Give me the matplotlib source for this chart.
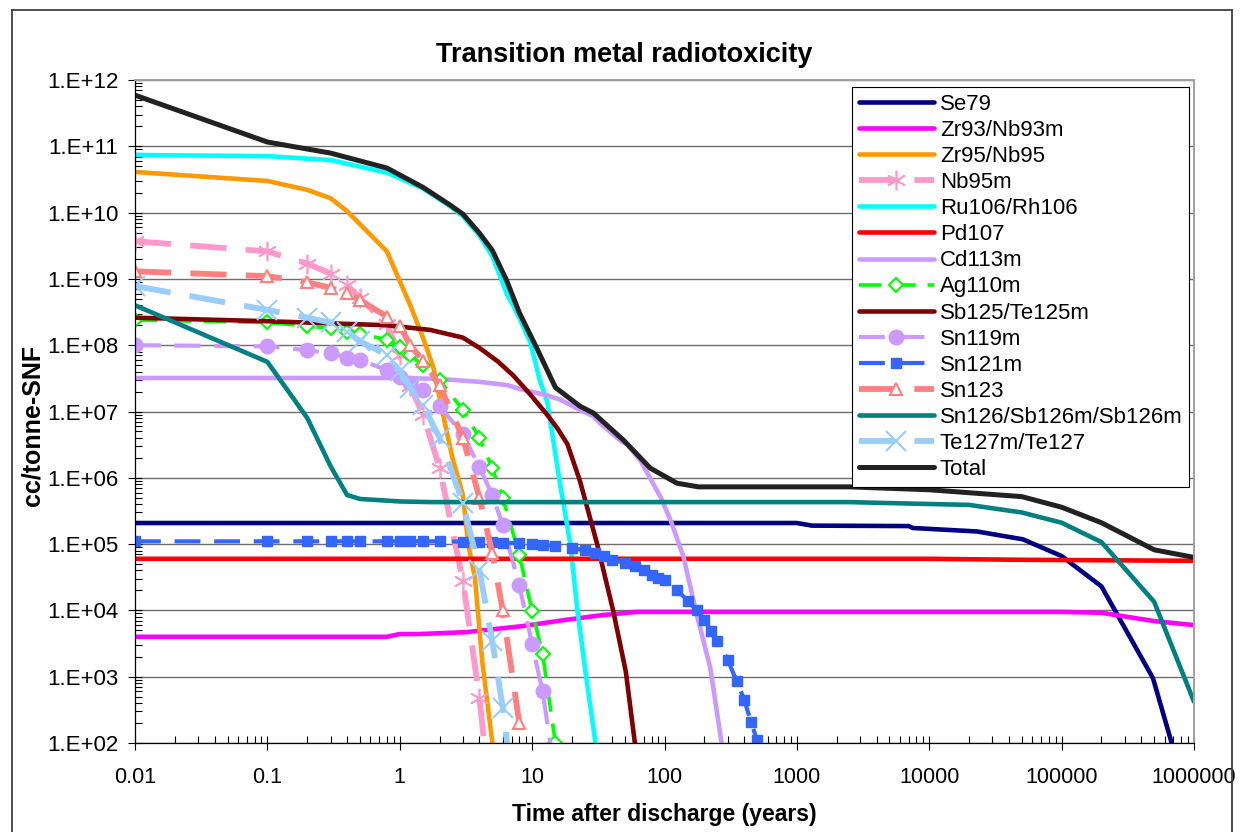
import numpy as np
import matplotlib
matplotlib.use("Agg")
import matplotlib.pyplot as plt
from matplotlib.ticker import FixedLocator, FuncFormatter, LogLocator, NullFormatter
from matplotlib.lines import Line2D

plt.rcParams['font.family'] = ['Liberation Sans', 'DejaVu Sans']

# ---------------- data (years, cc/tonne-SNF) ----------------
t_se79 = [0.01, 1000, 1300, 7000, 7500, 23000, 51000, 1e5, 2e5, 4.9e5, 7.2e5, 1e6]
v_se79 = [2.08e5, 2.08e5, 1.9e5, 1.87e5, 1.75e5, 1.55e5, 1.18e5, 6.6e4, 2.3e4, 9.5e2, 66, 5]

t_zr93 = [0.01, 0.8, 1, 1.4, 3.2, 8.5, 18, 34, 62, 1e5, 2e5, 5e5, 1e6]
v_zr93 = [4.0e3, 4.0e3, 4.4e3, 4.4e3, 4.7e3, 5.8e3, 7.2e3, 8.5e3, 9.5e3, 9.5e3, 9.2e3, 6.9e3, 6.0e3]

t_zr95 = [0.01, 0.1, 0.2, 0.3, 0.4, 0.8, 1.2, 1.5, 1.8, 2.1, 2.5, 3.0, 3.3, 3.7, 4.2, 5.1]
v_zr95 = [4.1e10, 3.0e10, 2.2e10, 1.65e10, 1.05e10, 2.6e9, 4.0e8, 1.3e8, 4.5e7,
          1.0e7, 2.0e6, 5.5e5, 9.7e4, 3.1e4, 1.7e3, 76]

t_nb95m = [0.01, 0.1, 0.2, 0.3, 0.4, 0.5, 0.8, 1, 1.2, 1.5, 2, 3, 4, 5]
v_nb95m = [3.7e9, 2.6e9, 1.7e9, 1.2e9, 8.1e8, 5.1e8, 2.1e8, 7e7, 2.4e7, 9e6, 1.4e6, 2.8e4, 4.8e2, 7]

t_ru106 = [0.01, 0.1, 0.3, 0.8, 1.5, 2.4, 3, 4, 5, 6.5, 7.2, 8.3, 9.7, 11.4, 13, 14, 16.3, 19.5, 22, 26, 31]
v_ru106 = [7.4e10, 7.1e10, 6.2e10, 4.0e10, 2.3e10, 1.25e10, 8.8e9, 4.5e9, 2.2e9, 5.7e8, 4.0e8,
           2.2e8, 1.1e8, 3e7, 1.4e7, 5.5e6, 7.8e5, 9.7e4, 9.8e3, 8e2, 66]

t_pd107 = [0.01, 1e4, 5e4, 1e6]
v_pd107 = [6.0e4, 6.0e4, 5.8e4, 5.6e4]

t_cd113m = [0.01, 1, 2, 4, 6.5, 8, 13, 16.5, 23, 29, 33, 46, 53, 66, 94, 112, 139, 172, 222, 271, 310]
v_cd113m = [3.2e7, 3.2e7, 3.1e7, 2.8e7, 2.5e7, 2.2e7, 1.75e7, 1.5e7, 1.05e7, 8.5e6, 6.5e6,
            3.7e6, 3.1e6, 1.8e6, 5e5, 2.2e5, 6.5e4, 1.0e4, 1.35e3, 94, 12]

t_ag110m = [0.01, 0.1, 0.2, 0.3, 0.4, 0.5, 0.8, 1, 1.2, 1.5, 2, 3, 4, 5, 6, 8, 10, 12, 15, 20]
v_ag110m = [2.4e8, 2.2e8, 1.95e8, 1.8e8, 1.6e8, 1.5e8, 1.2e8, 9.5e7, 7e7, 5e7, 3e7, 1.05e7,
            4e6, 1.4e6, 5e5, 6.9e4, 9.8e3, 2.2e3, 1.0e2, 3]

t_sb125 = [0.01, 0.1, 0.8, 1.7, 3, 4, 5.5, 7.2, 9.7, 13, 15.5, 18.5, 23, 31, 41, 51, 60, 68]
v_sb125 = [2.6e8, 2.3e8, 2.0e8, 1.7e8, 1.3e8, 9.1e7, 5.7e7, 3.5e7, 1.8e7, 8.9e6, 5.6e6, 3.2e6,
           8.9e5, 1.0e5, 9.8e3, 1.2e3, 93, 12]

t_sn119m = [0.01, 0.1, 0.2, 0.3, 0.4, 0.5, 0.8, 1, 1.2, 1.5, 2, 3, 4, 5, 6, 8, 10, 12, 15]
v_sn119m = [1.0e8, 9.6e7, 8.4e7, 7.5e7, 6.5e7, 6e7, 4.2e7, 3.3e7, 2.7e7, 2.1e7, 1.2e7, 4.5e6,
            1.45e6, 5.5e5, 1.95e5, 2.4e4, 3.1e3, 6e2, 30]

t_sn121m = [0.01, 0.1, 0.2, 0.3, 0.4, 0.5, 0.8, 1, 1.2, 1.5, 2, 3, 4, 5, 6, 8, 10, 12, 15, 20,
            25, 30, 35, 40, 50, 60, 70, 80, 90, 100, 125, 150, 175, 200, 225, 250, 300, 350,
            400, 450, 500]
v_sn121m = [1.1e5, 1.1e5, 1.1e5, 1.1e5, 1.1e5, 1.1e5, 1.1e5, 1.1e5, 1.1e5, 1.1e5, 1.1e5,
            1.09e5, 1.08e5, 1.07e5, 1.05e5, 1.03e5, 1.0e5, 9.8e4, 9.3e4, 8.7e4, 8.1e4, 7.3e4,
            6.6e4, 5.8e4, 5.2e4, 4.7e4, 4.1e4, 3.4e4, 3.1e4, 2.9e4, 2.0e4, 1.4e4, 1.0e4, 7.2e3,
            4.9e3, 3.5e3, 1.8e3, 8.7e2, 4.5e2, 2.1e2, 1.1e2]

t_sn123 = [0.01, 0.1, 0.2, 0.3, 0.4, 0.5, 0.8, 1, 1.2, 1.5, 2, 3, 4, 5, 6, 8, 9]
v_sn123 = [1.3e9, 1.1e9, 8.9e8, 7.3e8, 6.1e8, 4.8e8, 2.7e8, 1.95e8, 1.0e8, 5.8e7, 2.5e7, 4e6,
           5e5, 7.4e4, 1.0e4, 2e2, 30]

t_sn126 = [0.01, 0.1, 0.2, 0.3, 0.4, 0.5, 1, 1.7, 2500, 4000, 2e4, 5e4, 1e5, 2e5, 5e5, 1e6]
v_sn126 = [4.0e8, 5.6e7, 8e6, 1.5e6, 5.5e5, 4.8e5, 4.4e5, 4.3e5, 4.3e5, 4.2e5, 3.9e5, 3.0e5,
           2.1e5, 1.07e5, 1.35e4, 4.2e2]

t_te127m = [0.01, 0.1, 0.2, 0.3, 0.4, 0.5, 0.8, 1, 1.2, 1.5, 2, 3, 4, 5, 6, 7]
v_te127m = [7.8e8, 3.4e8, 2.6e8, 2.2e8, 1.6e8, 1.15e8, 7.1e7, 4.1e7, 2.3e7, 1.25e7, 4e6, 4.2e5,
            4e4, 3.5e3, 3.4e2, 27]

t_total = [0.01, 0.1, 0.3, 0.8, 1.5, 2.4, 3, 4, 5, 6.4, 8, 11, 15, 23, 29, 49, 78, 124, 180,
           1000, 2500, 1e4, 5e4, 1e5, 2e5, 5e5, 1e6]
v_total = [5.9e11, 1.16e11, 7.9e10, 4.7e10, 2.4e10, 1.3e10, 9.5e9, 4.9e9, 2.7e9, 9.6e8, 3.1e8,
           8.5e7, 2.3e7, 1.2e7, 9.5e6, 3.7e6, 1.4e6, 8.3e5, 7.3e5, 7.3e5, 7.3e5, 6.6e5, 5.2e5,
           3.6e5, 2.1e5, 8.2e4, 6.3e4]

labels = ["Se79", "Zr93/Nb93m", "Zr95/Nb95", "Nb95m", "Ru106/Rh106", "Pd107", "Cd113m",
          "Ag110m", "Sb125/Te125m", "Sn119m", "Sn121m", "Sn123", "Sn126/Sb126m/Sb126m",
          "Te127m/Te127", "Total"]

# ---------------- figure ----------------
W, H = 1241, 832
fig = plt.figure(figsize=(W / 100, H / 100), dpi=100)
ax = fig.add_axes([135 / W, 1 - 743 / H, (1194 - 135) / W, (743 - 80) / H])

LW = 3.3
LD = (6.2, 3.3)

def solid(t, v, color, lw=LW):
    ax.plot(t, v, color=color, lw=lw, solid_capstyle='round', solid_joinstyle='round')

def dashed(t, v, color, lw, **mk):
    ln, = ax.plot(t, v, color=color, lw=lw, dash_capstyle='butt', **mk)
    ln.set_dashes(LD)

solid(t_se79, v_se79, '#000080')
solid(t_zr93, v_zr93, '#FF00FF')
solid(t_zr95, v_zr95, '#FF9900')
dashed(t_nb95m, v_nb95m, '#FF99CC', 4.2, marker=(6, 2, 0), ms=14, mec='#FF99CC', mew=1.2)
solid(t_ru106, v_ru106, '#00FFFF')
solid(t_pd107, v_pd107, '#FF0000')
solid(t_cd113m, v_cd113m, '#CC99FF')
dashed(t_ag110m, v_ag110m, '#00FF00', 2.6, marker='D', ms=7.5, mfc='white', mec='#00FF00', mew=1.5)
solid(t_sb125, v_sb125, '#800000')
dashed(t_sn119m, v_sn119m, '#CC99FF', 3.0, marker='o', ms=10.5, mfc='#CC99FF', mec='#CC99FF')
dashed(t_sn121m, v_sn121m, '#3366FF', 3.0, marker='s', ms=7, mfc='#3366FF', mec='#3366FF')
dashed(t_sn123, v_sn123, '#FF8080', 4.2, marker='^', ms=8, mfc='white', mec='#FF8080', mew=1.5)
solid(t_sn126, v_sn126, '#008080')
dashed(t_te127m, v_te127m, '#99CCFF', 4.2, marker='x', ms=14, mec='#99CCFF', mew=1.5)
solid(t_total, v_total, '#222222', lw=3.6)

ax.set_xscale('log')
ax.set_yscale('log')
ax.set_xlim(0.01, 1e6)
ax.set_ylim(1e2, 1e12)

ax.yaxis.set_major_locator(FixedLocator([10.0 ** k for k in range(2, 13)]))
ax.yaxis.set_major_formatter(FuncFormatter(lambda v, p: '1.E+%02d' % int(round(np.log10(v)))))
ax.xaxis.set_major_locator(FixedLocator([10.0 ** k for k in range(-2, 7)]))
ax.xaxis.set_major_formatter(FuncFormatter(lambda v, p: ('%g' % v) if v < 1 else '%d' % round(v)))
ax.xaxis.set_minor_locator(LogLocator(base=10, subs=np.arange(2, 10), numticks=100))
ax.yaxis.set_minor_locator(LogLocator(base=10, subs=np.arange(2, 10), numticks=100))
ax.xaxis.set_minor_formatter(NullFormatter())
ax.yaxis.set_minor_formatter(NullFormatter())

ax.tick_params(axis='both', which='major', direction='inout', length=10, width=0.8, color='black')
ax.tick_params(axis='both', which='minor', direction='in', length=5, width=0.8, color='black')
ax.tick_params(axis='y', which='major', labelsize=16, pad=7)
ax.tick_params(axis='x', which='major', labelsize=15.5, pad=12)

ax.grid(True, axis='y', which='major', color='#6e6e6e', lw=1.0)
ax.grid(False, axis='x')
ax.set_axisbelow(True)

for s in ('left', 'bottom'):
    ax.spines[s].set_color('black')
    ax.spines[s].set_linewidth(0.9)
for s in ('top', 'right'):
    ax.spines[s].set_color('#A0A0A0')
    ax.spines[s].set_linewidth(1.4)

leg = ax.legend(labels, loc='upper left', bbox_to_anchor=(852 / W, 1 - 87 / H),
                bbox_transform=fig.transFigure, fontsize=16, handlelength=3.4,
                handletextpad=0.25, labelspacing=0.23, borderpad=0.3, borderaxespad=0,
                numpoints=1, fancybox=False, framealpha=1, edgecolor='black')
leg.get_frame().set_linewidth(0.8)

fig.text(624 / W, 1 - 55 / H, 'Transition metal radiotoxicity', ha='center', va='center',
         fontsize=19.5, fontweight='bold')
fig.text(664 / W, 1 - 815 / H, 'Time after discharge (years)', ha='center', va='center',
         fontsize=16.5, fontweight='bold')
fig.text(33 / W, 1 - 425 / H, 'cc/tonne-SNF', ha='center', va='center', rotation=90,
         fontsize=18, fontweight='bold')

# outer chart-area border
bc = '#404040'
fig.add_artist(Line2D([12 / W, 12 / W], [0, 1 - 10 / H], transform=fig.transFigure, color=bc, lw=1.3))
fig.add_artist(Line2D([12 / W, 1232 / W], [1 - 10 / H, 1 - 10 / H], transform=fig.transFigure, color=bc, lw=1.3))
fig.add_artist(Line2D([1232 / W, 1232 / W], [0, 1 - 10 / H], transform=fig.transFigure, color=bc, lw=1.3))

fig.savefig('out.png', dpi=100)
